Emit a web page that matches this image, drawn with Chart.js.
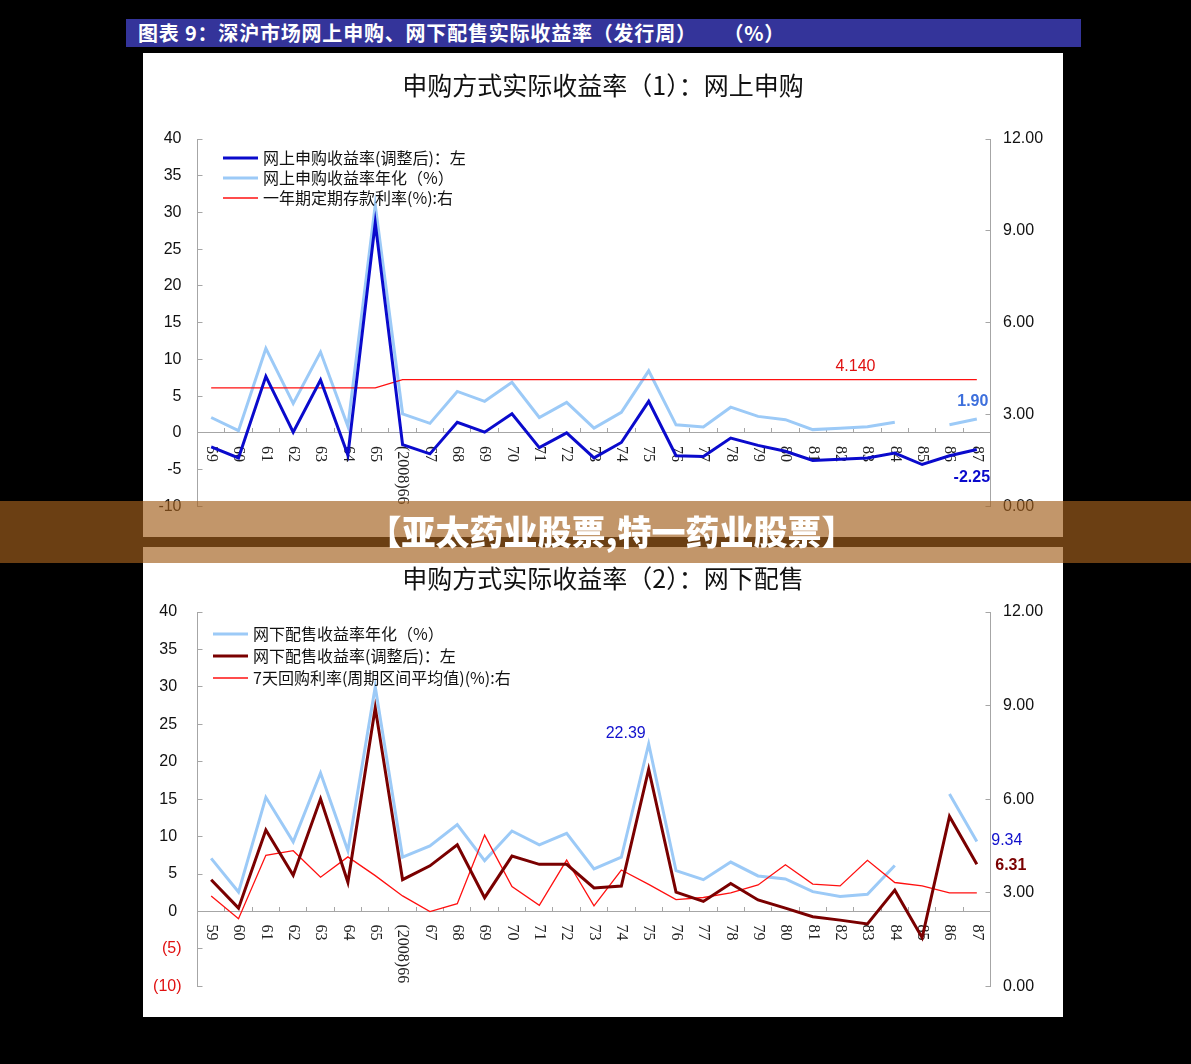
<!DOCTYPE html>
<html>
<head>
<meta charset="utf-8">
<script src="https://cdn.jsdelivr.net/npm/chart.js@4/dist/chart.umd.min.js"></script>
<style>
  html, body { margin: 0; padding: 0; background: #000; }
  body { width: 1191px; height: 1064px; position: relative; overflow: hidden; }
  #header {
    position: absolute; left: 126px; top: 19px; width: 955px; height: 28px;
    background: #34349a; color: #fff;
    font: bold 20px "Noto Sans CJK SC", sans-serif; line-height: 28px; letter-spacing: 0.8px;
    padding-left: 12px; box-sizing: border-box; white-space: pre;
  }
  .panel { position: absolute; left: 143px; width: 920px; background: #fff; }
  #p1 { top: 53px; height: 484px; }
  #p2 { top: 547px; height: 470px; }
  #banner {
    position: absolute; left: 0; top: 501px; width: 1191px; height: 62px;
    background: rgba(162, 95, 29, 0.66); z-index: 5;
    color: #fff; text-align: center;
    font: 900 34px "Noto Sans CJK SC", sans-serif; line-height: 62px;
  }
  #banner span { position: relative; left: 16px; top: -1px; }
</style>
</head>
<body>
<div id="header">图表 9：深沪市场网上申购、网下配售实际收益率（发行周）     （%）</div>
<div class="panel" id="p1"><canvas id="chart1" width="920" height="484"></canvas></div>
<div class="panel" id="p2"><canvas id="chart2" width="920" height="470"></canvas></div>
<div id="banner"><span>【亚太药业股票,特一药业股票】</span></div>

<script>
// issue weeks
var categories = ['59', '60', '61', '62', '63', '64', '65', '(2008)66', '67', '68', '69', '70', '71', '72',
    '73', '74', '75', '76', '77', '78', '79', '80', '81', '82', '83', '84', '85', '86', '87'];

// chart 1: online subscription
var onlineAdj = [-1.9, -3.4, 7.7, 0.1, 7.2, -3.0, 28.6, -1.6, -2.85, 1.45, 0.1, 2.6, -2.0, 0.0,
    -3.4, -1.3, 4.3, -3.1, -3.2, -0.7, -1.7, -2.5, -3.75, -3.6, -3.4, -2.75, -4.3, -3.1, -2.25];
var onlineAnnual = [2.1, 0.3, 11.5, 4.0, 11.0, 0.9, 31.0, 2.6, 1.3, 5.65, 4.3, 6.9, 2.1, 4.15,
    0.65, 2.8, 8.45, 1.1, 0.8, 3.5, 2.25, 1.8, 0.45, 0.65, 0.85, 1.45, null, 1.1, 1.9];
var depositRate = [3.87, 3.87, 3.87, 3.87, 3.87, 3.87, 3.87, 4.14, 4.14, 4.14, 4.14, 4.14, 4.14, 4.14,
    4.14, 4.14, 4.14, 4.14, 4.14, 4.14, 4.14, 4.14, 4.14, 4.14, 4.14, 4.14, 4.14, 4.14, 4.14];

// chart 2: offline placement
var offlineAnnual = [7.1, 2.6, 15.25, 9.3, 18.5, 8.1, 30.0, 7.25, 8.75, 11.6, 6.8, 10.75, 8.9, 10.45,
    5.7, 7.25, 22.39, 5.45, 4.25, 6.6, 4.75, 4.35, 2.65, 2.0, 2.3, 6.15, null, 15.7, 9.34];
var offlineAdj = [4.25, 0.45, 10.9, 4.85, 15.05, 3.9, 27.2, 4.25, 6.1, 8.9, 1.85, 7.4, 6.3, 6.3,
    3.15, 3.4, 19.0, 2.6, 1.35, 3.75, 1.55, 0.45, -0.7, -1.15, -1.65, 2.85, -3.5, 12.7, 6.31];
var repoRate = [2.9, 2.17, 4.2, 4.35, 3.5, 4.15, 3.55, 2.9, 2.4, 2.65, 4.85, 3.2, 2.6, 4.05,
    2.58, 3.73, 3.27, 2.78, 2.85, 3.0, 3.25, 3.9, 3.28, 3.22, 4.04, 3.33, 3.22, 3.0, 3.0];

var AXIS = '#a6a6a6';
var CJK = '"Noto Sans CJK SC", sans-serif';

// rotated week labels hanging under the zero line
var xLabels = {
    id: 'xLabels',
    beforeDatasetsDraw: function(chart) {
        var ctx = chart.ctx;
        var xs = chart.scales.x;
        var y0 = chart.scales.y.getPixelForValue(0);
        ctx.save();
        ctx.font = '16px "Liberation Serif", serif';
        ctx.fillStyle = '#222';
        ctx.textAlign = 'left';
        ctx.textBaseline = 'middle';
        chart.data.labels.forEach(function(l, i) {
            ctx.save();
            ctx.translate(xs.getPixelForValue(i), y0 + 13);
            ctx.rotate(Math.PI / 2);
            ctx.fillText(l, 0, 0);
            ctx.restore();
        });
        ctx.restore();
    }
};

// legend drawn inside the plot area, top-left
var insideLegend = {
    id: 'insideLegend',
    afterDraw: function(chart, args, opts) {
        var ctx = chart.ctx;
        var area = chart.chartArea;
        ctx.save();
        ctx.font = '16px ' + CJK;
        ctx.textBaseline = 'middle';
        ctx.textAlign = 'left';
        opts.items.forEach(function(dsIndex, k) {
            var ds = chart.data.datasets[dsIndex];
            var y = area.top + opts.top + k * opts.gap;
            var x = area.left + opts.left;
            ctx.strokeStyle = ds.borderColor;
            ctx.lineWidth = ds.borderWidth;
            ctx.beginPath();
            ctx.moveTo(x, y);
            ctx.lineTo(x + 35, y);
            ctx.stroke();
            ctx.fillStyle = '#111';
            ctx.fillText(ds.label, x + 40, y);
        });
        ctx.restore();
    }
};

// value callouts next to chosen points
var valueNotes = {
    id: 'valueNotes',
    afterDraw: function(chart, args, opts) {
        var ctx = chart.ctx;
        ctx.save();
        ctx.textAlign = 'center';
        ctx.textBaseline = 'middle';
        opts.notes.forEach(function(n) {
            var ds = chart.data.datasets[n.ds];
            var xs = chart.scales.x;
            var ys = chart.scales[ds.yAxisID];
            var px = xs.getPixelForValue(n.idx);
            var py = ys.getPixelForValue(ds.data[n.idx]);
            ctx.font = (n.bold ? 'bold ' : '') + '16px "Liberation Sans", Arial, sans-serif';
            ctx.fillStyle = n.color;
            ctx.fillText(n.text, px + n.dx, py + n.dy);
        });
        ctx.restore();
    }
};

function lineSet(label, data, color, width, axis, order) {
    return {
        label: label,
        data: data,
        borderColor: color,
        backgroundColor: color,
        borderWidth: width,
        yAxisID: axis,
        order: order,
        pointRadius: 0,
        tension: 0,
        spanGaps: false,
        fill: false
    };
}

function makeOptions(title, titlePad, bottomPad, leftTickColor, leftFormat, legendOpts, notes) {
    return {
        responsive: false,
        animation: false,
        layout: { padding: { left: 0, right: 0, top: 0, bottom: bottomPad } },
        plugins: {
            legend: { display: false },
            tooltip: { enabled: false },
            title: {
                display: true,
                text: title,
                color: '#111',
                font: { family: CJK, size: 25, weight: 'normal' },
                padding: titlePad
            },
            insideLegend: legendOpts,
            valueNotes: { notes: notes }
        },
        scales: {
            x: {
                type: 'category',
                position: { y: 0 },
                offset: true,
                grid: { offset: true, drawOnChartArea: false, tickLength: -5, color: AXIS },
                border: { display: true, color: AXIS },
                ticks: { display: false }
            },
            y: {
                position: 'left',
                min: -10,
                max: 40,
                afterFit: function(s) { s.width = 54.5; },
                grid: { drawOnChartArea: false, tickLength: -5, color: AXIS },
                border: { display: true, color: AXIS },
                ticks: {
                    stepSize: 5,
                    padding: 21,
                    color: leftTickColor,
                    font: { family: '"Liberation Sans", Arial, sans-serif', size: 16 },
                    callback: leftFormat
                }
            },
            y1: {
                position: 'right',
                min: 0,
                max: 12,
                afterFit: function(s) { s.width = 72.5; },
                grid: { drawOnChartArea: false, tickLength: -5, color: AXIS },
                border: { display: true, color: AXIS },
                ticks: {
                    stepSize: 3,
                    padding: 17.5,
                    color: '#111',
                    font: { family: '"Liberation Sans", Arial, sans-serif', size: 16 },
                    callback: function(v) { return v.toFixed(2); }
                }
            }
        }
    };
}

new Chart(document.getElementById('chart1').getContext('2d'), {
    type: 'line',
    data: {
        labels: categories,
        datasets: [
            lineSet('网上申购收益率(调整后)：左', onlineAdj, '#0a0acc', 3, 'y', 0),
            lineSet('网上申购收益率年化（%）', onlineAnnual, '#9ccaf7', 3, 'y', 2),
            lineSet('一年期定期存款利率(%):右', depositRate, '#ff1010', 1.3, 'y1', 1)
        ]
    },
    options: makeOptions(
        '申购方式实际收益率（1）：网上申购',
        { top: 17, bottom: 39 },
        29,
        '#111',
        function(v) { return String(v); },
        { items: [0, 1, 2], left: 25.5, top: 19, gap: 20 },
        [
            { ds: 2, idx: 24, text: '4.140', color: '#e01010', dx: -12, dy: -13, bold: false },
            { ds: 1, idx: 28, text: '1.90', color: '#3d6fdc', dx: -4, dy: -17, bold: true },
            { ds: 0, idx: 28, text: '-2.25', color: '#0a0acc', dx: -5, dy: 28, bold: true }
        ]
    ),
    plugins: [xLabels, insideLegend, valueNotes]
});

new Chart(document.getElementById('chart2').getContext('2d'), {
    type: 'line',
    data: {
        labels: categories,
        datasets: [
            lineSet('网下配售收益率年化（%）', offlineAnnual, '#9ccaf7', 3, 'y', 2),
            lineSet('网下配售收益率(调整后)：左', offlineAdj, '#7a0000', 3, 'y', 0),
            lineSet('7天回购利率(周期区间平均值)(%):右', repoRate, '#ff1010', 1.3, 'y1', 1)
        ]
    },
    options: makeOptions(
        '申购方式实际收益率（2）：网下配售',
        { top: 16, bottom: 19 },
        16.5,
        function(c) { return c.tick && c.tick.value < 0 ? '#e01010' : '#111'; },
        function(v) { return v < 0 ? '(' + (-v) + ')' : v + ' '; },
        { items: [0, 1, 2], left: 15.5, top: 22, gap: 22 },
        [
            { ds: 0, idx: 16, text: '22.39', color: '#1010cc', dx: -23, dy: -10, bold: false },
            { ds: 0, idx: 28, text: '9.34', color: '#1010cc', dx: 30, dy: -1, bold: false },
            { ds: 1, idx: 28, text: '6.31', color: '#7a0000', dx: 34, dy: 1, bold: true }
        ]
    ),
    plugins: [xLabels, insideLegend, valueNotes]
});
</script>
</body>
</html>
